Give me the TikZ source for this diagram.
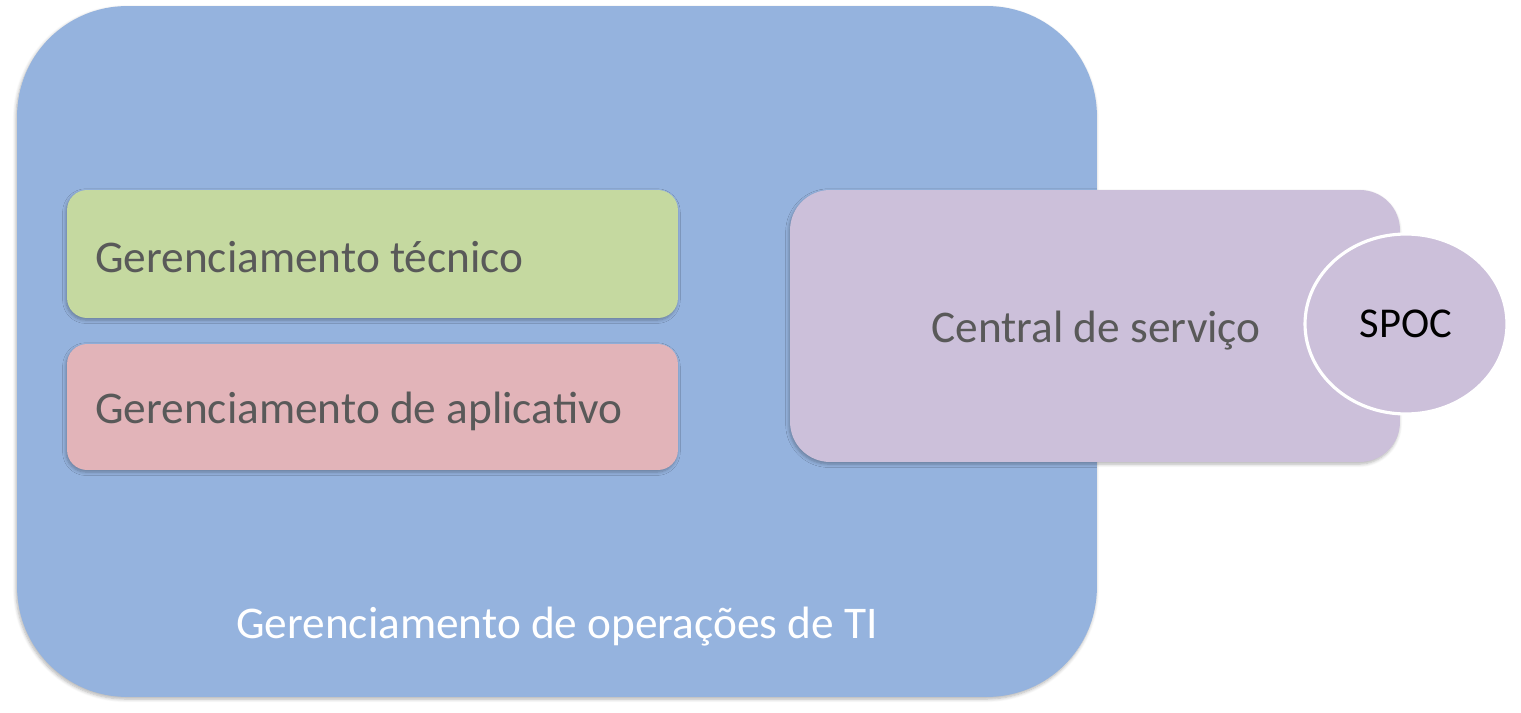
\documentclass[tikz,border=0pt]{standalone}
\usepackage{fontspec}
\setmainfont{Carlito}
\usetikzlibrary{shadows, shadows.blur, shapes.geometric, positioning}
\definecolor{opsblue}{HTML}{95B3DE}
\definecolor{tecgreen}{HTML}{C5D9A0}
\definecolor{apppink}{HTML}{E2B4B9}
\definecolor{deskpurple}{HTML}{CCC0DA}
\definecolor{labelgray}{HTML}{595959}
\tikzset{
    box/.style={rectangle, draw=none, inner sep=0pt,
        blur shadow={shadow xshift=-0.6pt, shadow yshift=-1.2pt, shadow blur steps=6, shadow opacity=30}},
    boxtext/.style={font=\fontsize{25.8}{30}\selectfont, text=labelgray, inner sep=0pt}
}

\begin{document}
\begin{tikzpicture}[x=0.02cm, y=-0.02cm]
    \useasboundingbox (0,0) rectangle (1521,713);
    % outer area
    \node[box, fill=opsblue, rounded corners=2.2cm, minimum width=21.6cm, minimum height=13.82cm] (ops) at (557,351.5) {};
    \node[boxtext, text=white] (opsl) at (557,627) {Gerenciamento de operações de TI};
    % left boxes
    \node[box, fill=tecgreen, rounded corners=0.4cm, minimum width=12.22cm, minimum height=2.56cm] (tec) at (372.5,254) {};
    \node[boxtext, anchor=west, right=0.56cm of tec.west, yshift=-0.06cm] (tecl) {Gerenciamento técnico};
    \node[box, fill=apppink, rounded corners=0.4cm, minimum width=12.22cm, minimum height=2.52cm] (app) at (372.5,407) {};
    \node[boxtext, anchor=west, right=0.56cm of app.west, yshift=-0.08cm] (appl) {Gerenciamento de aplicativo};
    % service desk
    \node[box, fill=deskpurple, rounded corners=0.8cm, minimum width=12.2cm, minimum height=5.44cm] (desk) at (1095,326) {};
    \node[boxtext] (deskl) at (1096,331) {Central de serviço};
    \node[ellipse, fill=deskpurple, draw=white, line width=1.8pt, minimum width=4.04cm, minimum height=3.6cm,
        font=\fontsize{24.2}{29}\selectfont, text=black] (spoc) at (1406,324) {SPOC};
\end{tikzpicture}
\end{document}
